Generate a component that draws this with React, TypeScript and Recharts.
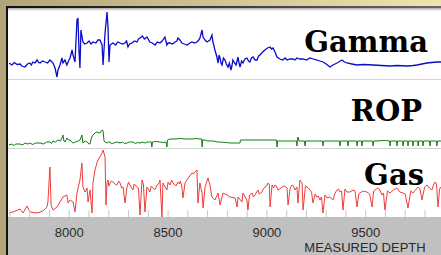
import React from 'react';
import { LineChart, Line, XAxis, YAxis } from 'recharts';

// [measured depth (ft), value]
const gammaLog: [number, number][] = [
  [7695,30],[7710,26],[7722,31],[7736,27],[7751,28],[7760,24],[7776,22],[7788,28],[7801,30],[7808,26],[7816,32],[7826,30],[7837,36],[7845,31],[7852,30],[7865,34],[7877,32],[7890,30],[7902,36],[7910,33],[7918,30],[7928,20],[7938,2],[7943,16],[7953,26],[7963,40],[7968,30],[7978,36],[7988,26],[7996,34],[8004,40],[8014,56],[8019,46],[8029,32],[8039,116],[8044,120],[8049,56],[8054,20],[8059,96],[8069,72],[8078,68],[8090,70],[8100,74],[8110,68],[8120,72],[8135,70],[8145,76],[8155,76],[8166,66],[8171,26],[8181,90],[8191,132],[8196,102],[8201,32],[8206,66],[8221,70],[8235,66],[8245,72],[8257,70],[8270,68],[8282,70],[8290,74],[8297,62],[8305,68],[8317,70],[8330,74],[8343,72],[8350,78],[8358,80],[8370,84],[8380,78],[8393,82],[8408,72],[8420,70],[8434,66],[8446,72],[8459,70],[8470,74],[8484,82],[8494,66],[8500,70],[8510,70],[8522,68],[8535,72],[8544,74],[8550,80],[8560,76],[8570,70],[8582,68],[8596,66],[8610,70],[8621,72],[8634,70],[8646,72],[8655,76],[8661,80],[8672,96],[8677,82],[8687,76],[8697,72],[8712,76],[8722,86],[8727,72],[8737,56],[8747,42],[8753,30],[8758,46],[8763,40],[8768,30],[8773,26],[8780,40],[8788,36],[8795,28],[8803,22],[8810,30],[8818,16],[8823,24],[8828,36],[8836,30],[8844,26],[8849,34],[8854,42],[8859,30],[8864,22],[8872,34],[8879,30],[8889,38],[8899,40],[8907,34],[8914,32],[8922,40],[8930,42],[8940,36],[8950,36],[8958,44],[8965,46],[8978,52],[8990,56],[9003,60],[9016,62],[9024,58],[9031,60],[9041,52],[9051,42],[9066,38],[9080,36],[9092,40],[9102,36],[9117,38],[9132,38],[9142,36],[9152,40],[9167,38],[9183,38],[9200,36],[9218,40],[9235,38],[9253,36],[9268,34],[9284,32],[9300,28],[9319,22],[9334,26],[9355,30],[9380,36],[9393,32],[9405,30],[9430,28],[9456,26],[9490,27],[9537,26],[9580,25],[9623,24],[9660,25],[9709,24],[9740,25],[9759,26],[9785,28],[9810,30],[9835,31],[9860,32],[9881,32]
];

const ropLog: [number, number][] = [
  [7695,6],[7710,8],[7720,5],[7730,8],[7751,8],[7765,6],[7775,10],[7790,8],[7801,10],[7815,7],[7830,10],[7852,10],[7870,8],[7885,12],[7902,12],[7910,9],[7918,14],[7930,12],[7943,16],[7955,14],[7963,20],[7968,26],[7973,14],[7978,12],[7988,20],[7996,16],[8004,16],[8012,12],[8019,10],[8030,12],[8045,14],[8054,16],[8060,22],[8064,26],[8069,10],[8080,14],[8090,12],[8100,8],[8105,8],[8112,20],[8120,26],[8130,30],[8140,32],[8155,30],[8166,36],[8171,34],[8176,14],[8181,12],[8191,10],[8200,12],[8206,12],[8215,8],[8225,10],[8240,12],[8257,10],[8270,12],[8280,9],[8292,10],[8305,12],[8322,12],[8335,9],[8345,11],[8358,10],[8372,12],[8385,10],[8395,12],[8408,12],[8415,12],[8418,2],[8421,12],[8440,13],[8460,12],[8475,11],[8490,12],[8494,2],[8497,16],[8510,18],[8540,18],[8560,19],[8590,18],[8620,18],[8640,19],[8661,18],[8670,18],[8672,2],[8675,16],[8687,16],[8700,14],[8712,14],[8730,14],[8750,12],[8763,12],[8790,11],[8818,10],[8845,10],[8864,10],[8866,16],[8900,16],[8950,16],[9000,16],[9031,16],[9049,16],[9051,2],[9054,14],[9080,14],[9110,14],[9140,14],[9150,14],[9152,4],[9155,20],[9158,22],[9162,14],[9190,14],[9193,4],[9196,14],[9240,14],[9282,14],[9284,4],[9287,14],[9330,14],[9368,14],[9370,4],[9373,14],[9408,14],[9410,4],[9413,14],[9454,14],[9456,4],[9459,14],[9479,14],[9481,4],[9484,14],[9535,14],[9537,4],[9540,14],[9600,15],[9621,14],[9623,4],[9626,14],[9656,14],[9658,4],[9661,14],[9687,14],[9689,4],[9692,14],[9712,14],[9714,4],[9717,14],[9737,14],[9739,4],[9742,14],[9763,14],[9765,4],[9768,14],[9788,14],[9790,4],[9793,14],[9823,14],[9825,4],[9828,14],[9858,14],[9860,4],[9863,14],[9881,14]
];

const gasLog: [number, number][] = [
  [7695,8],[7715,10],[7751,16],[7766,8],[7786,22],[7801,10],[7837,8],[7867,12],[7887,20],[7892,30],[7902,100],[7908,24],[7918,14],[7938,20],[7953,30],[7968,40],[7988,44],[7994,28],[8004,34],[8019,30],[8029,10],[8039,48],[8054,74],[8064,108],[8069,60],[8080,50],[8090,58],[8095,30],[8105,54],[8115,8],[8120,68],[8130,94],[8140,108],[8145,114],[8155,120],[8166,128],[8171,134],[8181,120],[8186,24],[8191,68],[8196,74],[8200,62],[8206,68],[8213,72],[8221,70],[8230,66],[8241,64],[8250,72],[8257,68],[8265,58],[8272,60],[8282,28],[8292,60],[8300,70],[8307,64],[8315,58],[8322,54],[8328,66],[8333,64],[8343,60],[8350,58],[8358,4],[8368,74],[8375,66],[8383,10],[8393,60],[8400,56],[8408,50],[8415,62],[8424,58],[8432,54],[8444,64],[8452,66],[8459,74],[8469,0],[8474,68],[8494,54],[8500,70],[8510,64],[8518,74],[8525,68],[8540,62],[8550,70],[8558,66],[8562,72],[8570,60],[8575,38],[8586,68],[8592,72],[8601,78],[8610,82],[8621,88],[8628,86],[8636,90],[8646,94],[8651,28],[8661,68],[8672,48],[8677,18],[8687,60],[8702,78],[8712,64],[8722,40],[8737,34],[8753,48],[8763,24],[8778,48],[8798,44],[8813,40],[8839,38],[8849,20],[8854,40],[8874,30],[8879,48],[8899,34],[8904,14],[8912,44],[8925,48],[8932,40],[8940,44],[8948,50],[8955,54],[8962,46],[8975,50],[8982,56],[8990,60],[8998,62],[9006,68],[9012,66],[9016,20],[9026,64],[9034,58],[9041,64],[9048,62],[9056,54],[9066,56],[9076,60],[9090,62],[9102,58],[9107,24],[9118,58],[9127,64],[9135,62],[9142,54],[9152,60],[9157,28],[9167,74],[9172,70],[9178,68],[9183,14],[9195,62],[9203,60],[9210,58],[9218,54],[9226,50],[9233,28],[9244,46],[9253,40],[9260,42],[9269,34],[9276,40],[9284,8],[9294,44],[9304,38],[9318,40],[9334,34],[9345,48],[9355,54],[9362,56],[9370,50],[9378,52],[9385,14],[9395,56],[9405,50],[9420,50],[9436,54],[9446,52],[9456,20],[9465,46],[9471,48],[9485,52],[9506,50],[9520,46],[9532,20],[9540,52],[9547,54],[9555,56],[9562,58],[9572,54],[9582,44],[9590,48],[9597,14],[9610,52],[9623,48],[9640,54],[9658,58],[9672,50],[9689,48],[9700,46],[9714,18],[9728,52],[9739,48],[9752,54],[9765,60],[9775,56],[9785,34],[9798,60],[9810,64],[9822,58],[9835,54],[9843,64],[9851,70],[9858,66],[9866,20],[9874,56],[9881,60]
];

const depthTicks = [7700,7800,7900,8000,8100,8200,8300,8400,8500,8600,8700,8800,8900,9000,9100,9200,9300,9400,9500,9600,9700,9800];
const labelTicks = [8000, 8500, 9000, 9500];
const depthDomain: [number, number] = [7695, 9881];

const rows = (log: [number, number][]) => log.map(([depth, value]) => ({ depth, value }));

const DepthTick = (props: any) => {
  const { x, y, payload } = props;
  const v = payload.value;
  return (
    <g>
      <line x1={x} x2={x} y1={y} y2={y - 7} stroke="#c8c8c8" strokeWidth={1} />
      {labelTicks.includes(v) && (
        <text x={x} y={y + 19.5} textAnchor="middle" fontFamily="'Liberation Sans', Arial, sans-serif" fontSize={13} fill="#2a2a2a">
          {v}
        </text>
      )}
    </g>
  );
};

function Panel(p: { log: [number, number][]; color: string; top: number; height: number; max: number; sw: number }) {
  return (
    <div style={{ position: 'absolute', left: 9, top: p.top, width: 432, height: p.height }}>
      <LineChart width={432} height={p.height} data={rows(p.log)} margin={{ top: 0, right: 0, bottom: 0, left: 0 }}>
        <XAxis dataKey="depth" type="number" domain={depthDomain} hide />
        <YAxis type="number" domain={[0, p.max]} hide />
        <Line dataKey="value" stroke={p.color} strokeWidth={p.sw} dot={false} isAnimationActive={false} />
      </LineChart>
    </div>
  );
}

export default function App() {
  const titleFont = "'DejaVu Serif', serif";
  return (
    <div style={{ position: 'absolute', left: 0, top: 0, width: 441, height: 255, background: '#fff', overflow: 'hidden' }}>
      <div style={{ position: 'absolute', left: 8, top: 217, width: 433, height: 38, background: '#c0c0c0' }} />
      <div style={{ position: 'absolute', left: 8, top: 79, width: 433, height: 1, background: '#d4d4d4' }} />
      <div style={{ position: 'absolute', left: 8, top: 148, width: 433, height: 1, background: '#d4d4d4' }} />
      <Panel log={gammaLog} color="#0c0cca" top={9} height={69} max={138} sw={1.3} />
      <Panel log={ropLog} color="#137a13" top={79} height={69} max={138} sw={1} />
      <div style={{ position: 'absolute', left: 9, top: 149, width: 432, height: 106 }}>
        <LineChart width={432} height={106} data={rows(gasLog)} margin={{ top: 0, right: 0, bottom: 0, left: 0 }}>
          <XAxis dataKey="depth" type="number" domain={depthDomain} ticks={depthTicks} interval={0}
            height={38} tickSize={0} tickMargin={0} axisLine={false} tickLine={false} tick={<DepthTick />} />
          <YAxis type="number" domain={[0, 136]} hide />
          <Line dataKey="value" stroke="#ee3c3c" strokeWidth={1} dot={false} isAnimationActive={false} />
        </LineChart>
      </div>
      <svg style={{ position: 'absolute', left: 0, top: 0 }} width={441} height={255}>
        <text x={428} y={52} textAnchor="end" fontFamily={titleFont} fontWeight="bold" fontSize={29} fill="#000">Gamma</text>
        <text x={422} y={121} textAnchor="end" fontFamily={titleFont} fontWeight="bold" fontSize={29} fill="#000">ROP</text>
        <text x={424} y={185} textAnchor="end" fontFamily={titleFont} fontWeight="bold" fontSize={29} fill="#000">Gas</text>
        <text x={365} y={251.5} textAnchor="middle" fontFamily="'Liberation Sans', Arial, sans-serif" fontSize={13} fill="#2a2a2a">MEASURED DEPTH</text>
      </svg>
      <div style={{ position: 'absolute', left: 0, top: 0, width: 441, height: 6, background: 'linear-gradient(to right, #b1a579, #ece5ad)' }} />
      <div style={{ position: 'absolute', left: 0, top: 0, width: 6, height: 255, background: '#b1a579' }} />
      <div style={{ position: 'absolute', left: 6, top: 6, width: 435, height: 2, background: 'linear-gradient(to right, #111, #666)' }} />
      <div style={{ position: 'absolute', left: 6, top: 6, width: 2, height: 249, background: '#111' }} />
      <div style={{ position: 'absolute', left: 8, top: 8, width: 433, height: 3, background: 'linear-gradient(to bottom, #a8a8a8, #fff)' }} />
    </div>
  );
}
